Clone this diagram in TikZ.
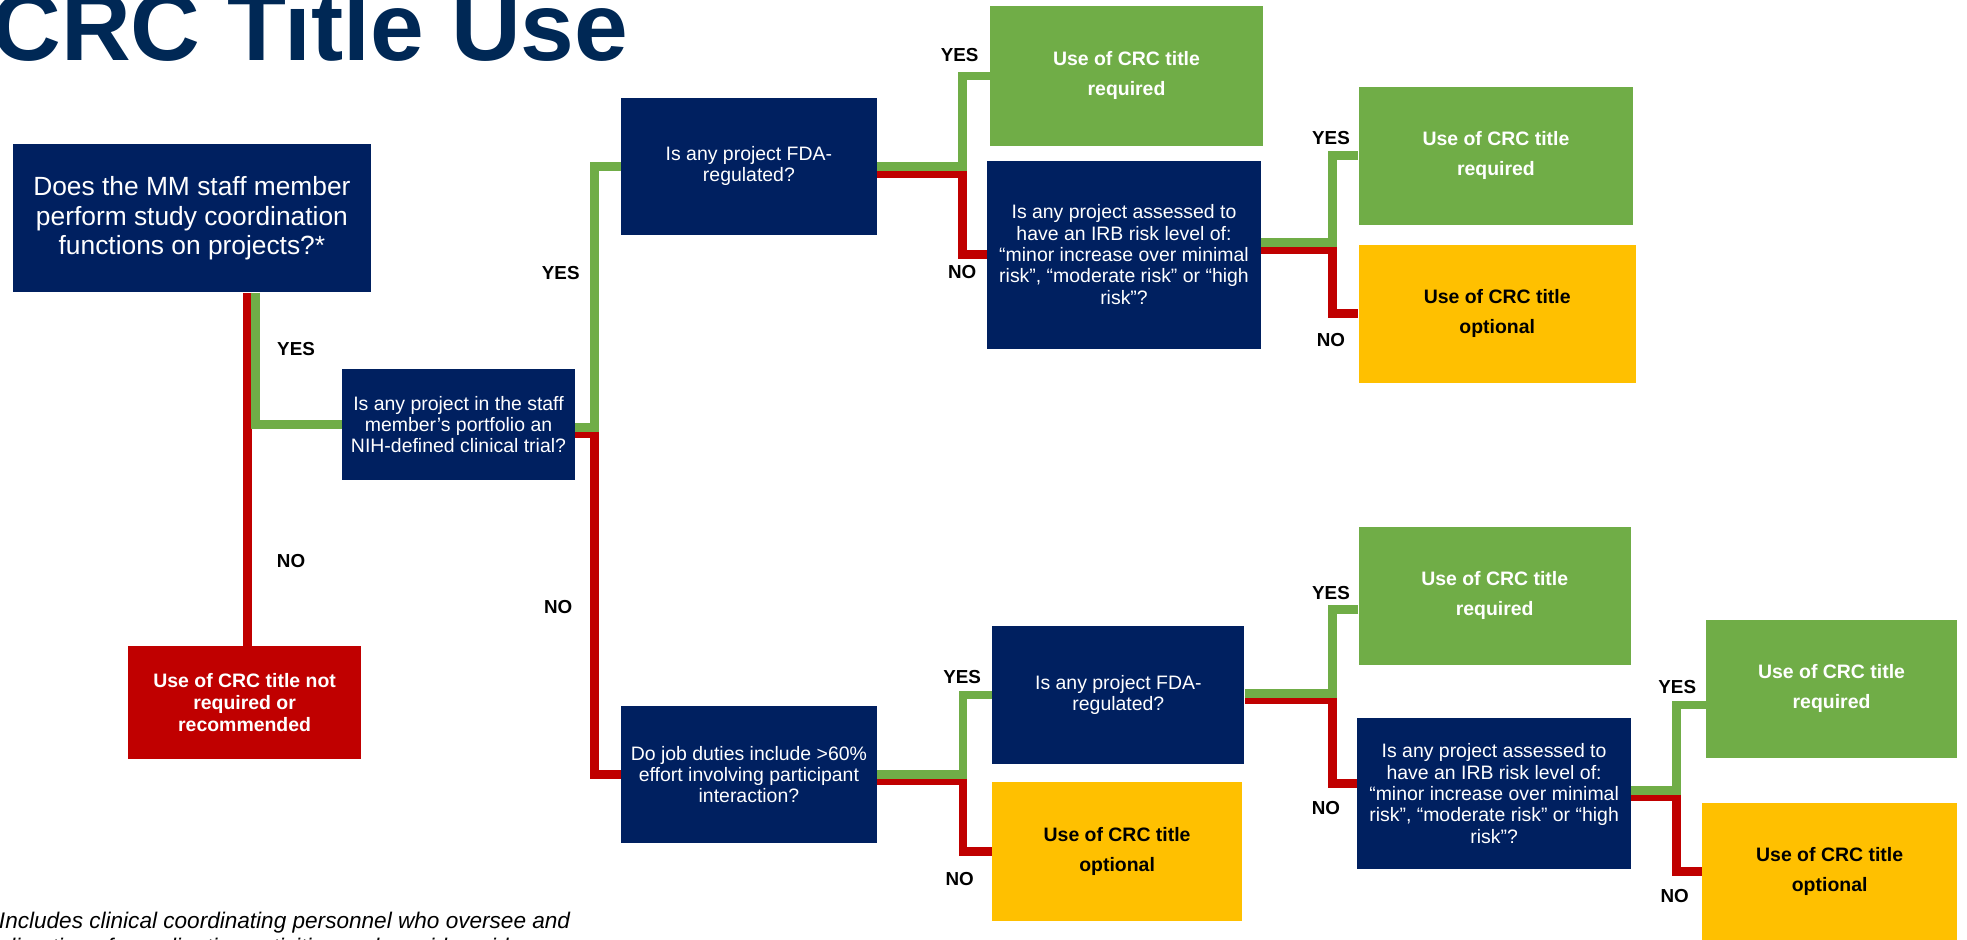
\documentclass[tikz,border=0pt]{standalone}
\usepackage{fontspec}
\setmainfont{Liberation Sans}
\usetikzlibrary{calc}
\definecolor{navy}{RGB}{0,32,96}
\definecolor{titleblue}{RGB}{0,40,85}
\definecolor{okgreen}{RGB}{112,173,71}
\definecolor{nored}{RGB}{192,0,0}
\definecolor{optyellow}{RGB}{255,192,0}

\begin{document}
\begin{tikzpicture}[x=1pt, y=-1pt,
	ask/.style = {fill=navy, text=white, align=center, inner sep=2pt, font=\fontsize{15.5}{17}\selectfont},
	req/.style = {fill=okgreen, text=white, align=center, font=\bfseries\fontsize{15.5}{24}\selectfont},
	opt/.style = {fill=optyellow, text=black, align=center, font=\bfseries\fontsize{15.5}{24}\selectfont},
	yes/.style = {draw=okgreen, line width=7pt},
	no/.style = {draw=nored, line width=7pt},
	lab/.style = {font=\bfseries\fontsize{15}{15}\selectfont}]
	\useasboundingbox (0,0) rectangle (1568,749);

	\node[anchor=base west, inner sep=0, text=titleblue, font=\bfseries\fontsize{77}{77}\selectfont] (title) at (-7,48) {CRC Title Use};

	% questions
	\node[ask, minimum width=286pt, minimum height=118pt, font=\fontsize{21}{23.5}\selectfont] (q1) at (153,174) {Does the MM staff member\\perform study coordination\\functions on projects?*};
	\node[ask, minimum width=185pt, minimum height=89pt] (q2) at (365.5,338.5) {Is any project in the staff\\member’s portfolio an\\NIH-defined clinical trial?};
	\node[ask, minimum width=204pt, minimum height=109pt] (fda1) at (597,132.5) {Is any project FDA-\\regulated?};
	\node[ask, minimum width=218pt, minimum height=150pt] (irb1) at (896,203) {Is any project assessed to\\have an IRB risk level of:\\“minor increase over minimal\\risk”, “moderate risk” or “high\\risk”?};
	\node[ask, minimum width=204pt, minimum height=109pt] (job) at (597,617.5) {Do job duties include >60\%\\effort involving participant\\interaction?};
	\node[ask, minimum width=201pt, minimum height=110pt] (fda2) at (891.5,554) {Is any project FDA-\\regulated?};
	\node[ask, minimum width=218pt, minimum height=121pt] (irb2) at (1191,632.5) {Is any project assessed to\\have an IRB risk level of:\\“minor increase over minimal\\risk”, “moderate risk” or “high\\risk”?};

	% results
	\node[fill=nored, text=white, align=center, minimum width=186pt, minimum height=90pt, font=\bfseries\fontsize{15.5}{17.5}\selectfont] (nrec) at (195,560) {Use of CRC title not\\required or\\recommended};
	\node[req, minimum width=218pt, minimum height=111pt] (req1) at (898,60.5) {Use of CRC title\\required};
	\node[req, minimum width=219pt, minimum height=110pt] (req2) at (1192.5,124) {Use of CRC title\\required};
	\node[opt, minimum width=221pt, minimum height=110pt] (opt1) at (1193.5,250) {Use of CRC title\\optional};
	\node[opt, minimum width=199pt, minimum height=111pt] (opt2) at (890.5,678.5) {Use of CRC title\\optional};
	\node[req, minimum width=217pt, minimum height=110pt] (req3) at (1191.5,475) {Use of CRC title\\required};
	\node[req, minimum width=200pt, minimum height=110pt] (req4) at (1460,549) {Use of CRC title\\required};
	\node[opt, minimum width=203pt, minimum height=110pt] (opt3) at (1458.5,695) {Use of CRC title\\optional};

	% connectors
	\coordinate (q1r) at ($(q1.south)+(44,0)$);
	\coordinate (q1g) at ($(q1.south)+(50.5,0)$);
	\draw[no] (q1r) -- (q1r |- nrec.north);
	\draw[yes] (q1g) |- (q2.west);

	\coordinate (j2) at ($(q2.east)+(16,0)$);
	\draw[no] ($(q2.east)+(0,7)$) -| (j2 |- job.west) -- (job.west);
	\draw[yes] ($(q2.east)+(0,2)$) -| (j2 |- fda1.west) -- (fda1.west);

	\coordinate (j3) at ($(fda1.east)+(68,0)$);
	\draw[no] ($(fda1.east)+(0,6)$) -| (j3 |- irb1.west) -- (irb1.west);
	\draw[yes] (fda1.east) -| (j3 |- req1.west) -- (req1.west);

	\coordinate (j4) at ($(irb1.east)+(57,0)$);
	\draw[no] ($(irb1.east)+(0,-4)$) -| (j4 |- opt1.west) -- (opt1.west);
	\draw[yes] ($(irb1.east)+(0,-10)$) -| (j4 |- req2.west) -- (req2.west);

	\coordinate (j5) at ($(job.east)+(68.5,0)$);
	\draw[no] ($(job.east)+(0,5)$) -| (j5 |- opt2.west) -- (opt2.west);
	\draw[yes] (job.east) -| (j5 |- fda2.west) -- (fda2.west);

	\coordinate (j6) at ($(fda2.east)+(70,0)$);
	\coordinate (irb2in) at ($(irb2.west)+(0,-8)$);
	\coordinate (req3in) at ($(req3.west)+(0,11)$);
	\draw[no] ($(fda2.east)+(0,4)$) -| (j6 |- irb2in) -- (irb2in);
	\draw[yes] ($(fda2.east)+(0,-1)$) -| (j6 |- req3in) -- (req3in);

	\coordinate (j7) at ($(irb2.east)+(36.5,0)$);
	\coordinate (req4in) at ($(req4.west)+(0,13)$);
	\draw[no] ($(irb2.east)+(0,2.5)$) -| (j7 |- opt3.west) -- (opt3.west);
	\draw[yes] ($(irb2.east)+(0,-2.5)$) -| (j7 |- req4in) -- (req4in);

	% labels
	\node[lab] (y1) at (236,278) {YES};
	\node[lab] (n1) at (232,447) {NO};
	\node[lab] (y2) at (447,218) {YES};
	\node[lab] (n2) at (445,484) {NO};
	\node[lab] (y3) at (765,44) {YES};
	\node[lab] (n3) at (767,217) {NO};
	\node[lab] (y4) at (1061,110) {YES};
	\node[lab] (n4) at (1061,271) {NO};
	\node[lab] (y5) at (767,540) {YES};
	\node[lab] (n5) at (765,701) {NO};
	\node[lab] (y6) at (1061,473) {YES};
	\node[lab] (n6) at (1057,644) {NO};
	\node[lab] (y7) at (1337,548) {YES};
	\node[lab] (n7) at (1335,714) {NO};

	\node[anchor=base west, align=left, inner sep=0, font=\itshape\fontsize{18}{21}\selectfont] (note) at (-8,761) {*Includes clinical coordinating personnel who oversee and\\t direction of coordination activities and provide guidance};
\end{tikzpicture}
\end{document}
